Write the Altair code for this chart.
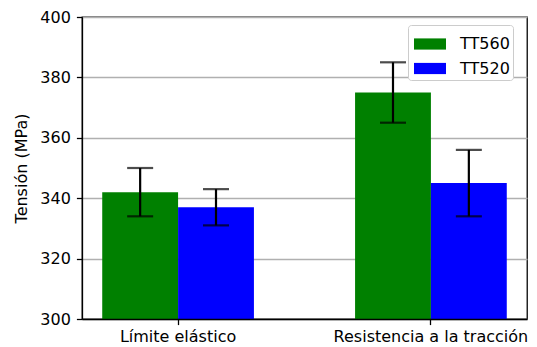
import altair as alt
import pandas as pd

categories = ["Límite elástico", "Resistencia a la tracción"]
series = ["TT560", "TT520"]
tt560_values = [342, 375]
tt560_errors = [8, 10]
tt520_values = [337, 345]
tt520_errors = [6, 11]
colors = ["#008000", "#0000ff"]
y_ticks = [300, 320, 340, 360, 380, 400]

rows = []
for cat, v, e in zip(categories, tt560_values, tt560_errors):
    rows.append({"cat": cat, "serie": "TT560", "v": v, "lo": v - e, "hi": v + e})
for cat, v, e in zip(categories, tt520_values, tt520_errors):
    rows.append({"cat": cat, "serie": "TT520", "v": v, "lo": v - e, "hi": v + e})
df = pd.DataFrame(rows)

FONT = "DejaVu Sans"

x_enc = alt.X(
    "cat:N",
    sort=categories,
    scale=alt.Scale(paddingInner=0.4, paddingOuter=0.08),
    axis=alt.Axis(
        title=None, labelAngle=0, labelFontSize=16, labelFont=FONT, labelColor="black",
        labelLimit=0,
        tickSize=5.6, tickColor="black", tickWidth=1.28, domainColor="black",
        domainWidth=1.28, labelPadding=4, zindex=1,
    ),
)
xoff = alt.XOffset("serie:N", sort=series, scale=alt.Scale(paddingInner=0, paddingOuter=0))
y_scale = alt.Scale(domain=[300, 400], nice=False, zero=False)

bars = alt.Chart(df).mark_bar(strokeWidth=0).encode(
    x=x_enc,
    xOffset=xoff,
    y=alt.Y(
        "v:Q",
        scale=y_scale,
        axis=alt.Axis(
            title="Tensión (MPa)", values=y_ticks, grid=True, gridColor="#b0b0b0",
            gridWidth=1.28, labelFontSize=16, labelFont=FONT, labelColor="black",
            titleFontSize=16, titleFont=FONT, titleFontWeight="normal", titleColor="black",
            tickSize=5.6, tickColor="black", tickWidth=1.28, domainColor="black",
            domainWidth=1.28, labelPadding=6, titlePadding=10, zindex=0,
        ),
    ),
    y2=alt.Y2(datum=300),
    color=alt.Color(
        "serie:N",
        sort=series,
        scale=alt.Scale(domain=series, range=colors),
        legend=alt.Legend(
            title=None, orient="none", legendX=326, legendY=8,
            symbolType="M-1,-0.35H1V0.35H-1Z", symbolSize=1024, symbolStrokeWidth=0,
            symbolOpacity=1, symbolOffset=3, labelFontSize=16, labelFont=FONT,
            labelColor="black", labelOffset=14, rowPadding=0.5, padding=3,
            strokeColor="#cccccc", fillColor="white", cornerRadius=3,
        ),
    ),
)

rules = alt.Chart(df).mark_rule(color="black", strokeWidth=2.2).encode(
    x=alt.X("cat:N", sort=categories), xOffset=xoff, y=alt.Y("lo:Q", scale=y_scale), y2="hi:Q"
)
caps_lo = alt.Chart(df).mark_tick(color="black", thickness=2.2, size=26, orient="horizontal").encode(
    x=alt.X("cat:N", sort=categories), xOffset=xoff, y=alt.Y("lo:Q", scale=y_scale)
)
caps_hi = alt.Chart(df).mark_tick(color="black", thickness=2.2, size=26, orient="horizontal").encode(
    x=alt.X("cat:N", sort=categories), xOffset=xoff, y=alt.Y("hi:Q", scale=y_scale)
)

chart = (
    alt.layer(bars, rules, caps_lo, caps_hi)
    .properties(
        width=445, height=302,
        autosize=alt.AutoSizeParams(type="none"),
        padding={"left": 74, "top": 9, "right": 2, "bottom": 28},
    )
    .configure_view(stroke="black", strokeWidth=1.28)
)

chart.save("out.html", embed_options={"renderer": "svg", "actions": False})
